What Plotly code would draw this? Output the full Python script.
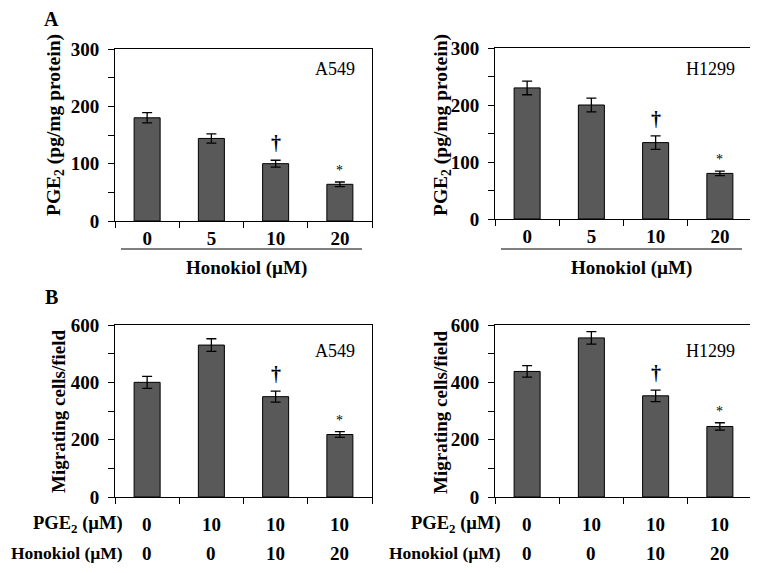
import plotly.graph_objects as go

# ---------------- data ----------------
honokiol_conc_A = ["0", "5", "10", "20"]
a549_pge2 = [180, 144, 100, 64]
a549_pge2_err = [9, 8, 6, 4]
h1299_pge2 = [230, 200, 134, 80]
h1299_pge2_err = [12, 12, 12, 4]

pge2_B = ["0", "10", "10", "10"]
honokiol_B = ["0", "0", "10", "20"]
groups_B = [0, 1, 2, 3]
a549_mig = [400, 530, 350, 218]
a549_mig_err = [21, 22, 19, 10]
h1299_mig = [438, 555, 353, 246]
h1299_mig_err = [20, 22, 20, 13]

sig_marks = ["", "", "†", "*"]

# ---------------- layout helpers ----------------
# the page body has an 8px margin, so the figure is drawn 8px in from the window edge
OFF = 8
W, H = 758 - OFF, 573 - OFF
FONT = "Liberation Serif, Times New Roman, serif"
BAR_COLOR = "#595959"


def px(x):
    return (x - OFF) / W


def py(y):
    return 1 - (y - OFF) / H


fig = go.Figure()

panels = [
    ("x", "y", honokiol_conc_A, a549_pge2, a549_pge2_err, "A549", (115, 372), (221, 49), 300, "A", 20),
    ("x2", "y2", honokiol_conc_A, h1299_pge2, h1299_pge2_err, "H1299", (495, 752), (219, 48), 300, "A", 21),
    ("x3", "y3", groups_B, a549_mig, a549_mig_err, "A549", (115, 372), (497, 325), 600, "B", 26),
    ("x4", "y4", groups_B, h1299_mig, h1299_mig_err, "H1299", (495, 752), (497, 325), 600, "B", 26),
]

axis_line = dict(showline=True, mirror=True, linecolor="black", linewidth=1,
                 showgrid=False, zeroline=False, automargin=False)

for i, (xa, ya, xs, ys, es, cell, xd, yd, ymax, pnl, lab_dy) in enumerate(panels):
    fig.add_trace(go.Bar(
        x=xs, y=ys, xaxis=xa, yaxis=ya,
        marker=dict(color=BAR_COLOR, line=dict(color="black", width=1)),
        error_y=dict(type="data", array=es, visible=True, color="black",
                     thickness=1.3, width=5),
        showlegend=False,
    ))
    n = "" if i == 0 else str(i + 1)
    xdict = dict(domain=[px(xd[0]), px(xd[1])], anchor=ya, ticks="outside",
                 ticklen=6, tickcolor="black", **axis_line)
    if pnl == "A":
        xdict.update(type="category", tickson="boundaries", range=[-0.5, 3.5],
                     tickangle=0,
                     tickfont=dict(family=FONT, size=19, color="black", weight="bold"))
    else:
        xdict.update(range=[-0.5, 3.5], tickvals=[-0.5, 0.5, 1.5, 2.5, 3.5],
                     showticklabels=False)
    fig.layout["xaxis" + n] = xdict
    fig.layout["yaxis" + n] = dict(
        domain=[py(yd[0]), py(yd[1])], anchor=xa, range=[0, ymax],
        dtick=ymax / 3, ticks="outside", ticklen=6, tickcolor="black",
        minor=dict(dtick=ymax / 6, ticks="outside", ticklen=6, tickcolor="black"),
        tickfont=dict(family=FONT, size=19, color="black", weight="bold"),
        ticklabelstandoff=5, **axis_line)

    # significance marks (x given as position index of the category)
    for k, (yv, ev, m) in enumerate(zip(ys, es, sig_marks)):
        if not m:
            continue
        fig.add_annotation(x=k, y=yv + ev, xref=xa, yref=ya, text=m,
                           showarrow=False, xanchor="center", yanchor="bottom",
                           yshift=4 if m == "†" else 2,
                           font=dict(family=FONT, size=20 if m == "†" else 14,
                                     color="black", weight="bold" if m == "†" else "normal"))
    # cell line label
    fig.add_annotation(x=px(xd[0] + 242), y=py(yd[1] + lab_dy), xref="paper", yref="paper",
                       text=cell, showarrow=False, xanchor="right", yanchor="middle",
                       font=dict(family=FONT, size=18, color="black"))

# y-axis titles
ytitles = [
    (55, 125, "PGE<sub>2</sub> (pg/mg protein)", 19.5),
    (442, 125, "PGE<sub>2</sub> (pg/mg protein)", 19.5),
    (58, 412, "Migrating cells/field", 19),
    (440, 412, "Migrating cells/field", 19),
]
for x, y, t, s in ytitles:
    fig.add_annotation(x=px(x), y=py(y), xref="paper", yref="paper", text=t,
                       textangle=-90, showarrow=False, xanchor="center", yanchor="middle",
                       font=dict(family=FONT, size=s, color="black", weight="bold"))

# panel letters
for x, y, t in [(51, 19, "A"), (51, 297, "B")]:
    fig.add_annotation(x=px(x), y=py(y), xref="paper", yref="paper", text=t,
                       showarrow=False, xanchor="center", yanchor="middle",
                       font=dict(family=FONT, size=20, color="black", weight="bold"))

# Panel A: underline + Honokiol title
for x0, x1, cx in [(121, 362, 246), (501, 742, 631)]:
    fig.add_shape(type="line", xref="paper", yref="paper", x0=px(x0), x1=px(x1),
                  y0=py(249), y1=py(249), line=dict(color="black", width=1.2))
    fig.add_annotation(x=px(cx), y=py(268), xref="paper", yref="paper",
                       text="Honokiol (µM)", showarrow=False,
                       xanchor="center", yanchor="middle",
                       font=dict(family=FONT, size=19, color="black", weight="bold"))

# Panel B: treatment rows
for xa, lab_right in [("x3", 125), ("x4", 503)]:
    fig.add_annotation(x=px(lab_right), y=py(524), xref="paper", yref="paper",
                       text="PGE<sub>2</sub> (µM)", showarrow=False,
                       xanchor="right", yanchor="middle",
                       font=dict(family=FONT, size=18.5, color="black", weight="bold"))
    fig.add_annotation(x=px(lab_right), y=py(553), xref="paper", yref="paper",
                       text="Honokiol (µM)", showarrow=False,
                       xanchor="right", yanchor="middle",
                       font=dict(family=FONT, size=17.5, color="black", weight="bold"))
    for g, p, h in zip(groups_B, pge2_B, honokiol_B):
        fig.add_annotation(x=g, y=py(524), xref=xa, yref="paper", text=p,
                           showarrow=False, xanchor="center", yanchor="middle",
                           font=dict(family=FONT, size=19, color="black", weight="bold"))
        fig.add_annotation(x=g, y=py(553), xref=xa, yref="paper", text=h,
                           showarrow=False, xanchor="center", yanchor="middle",
                           font=dict(family=FONT, size=19, color="black", weight="bold"))

fig.update_layout(width=W, height=H, margin=dict(l=0, r=0, t=0, b=0, autoexpand=False),
                  paper_bgcolor="white", plot_bgcolor="white", bargap=0.595)

fig.write_html("out.html")
